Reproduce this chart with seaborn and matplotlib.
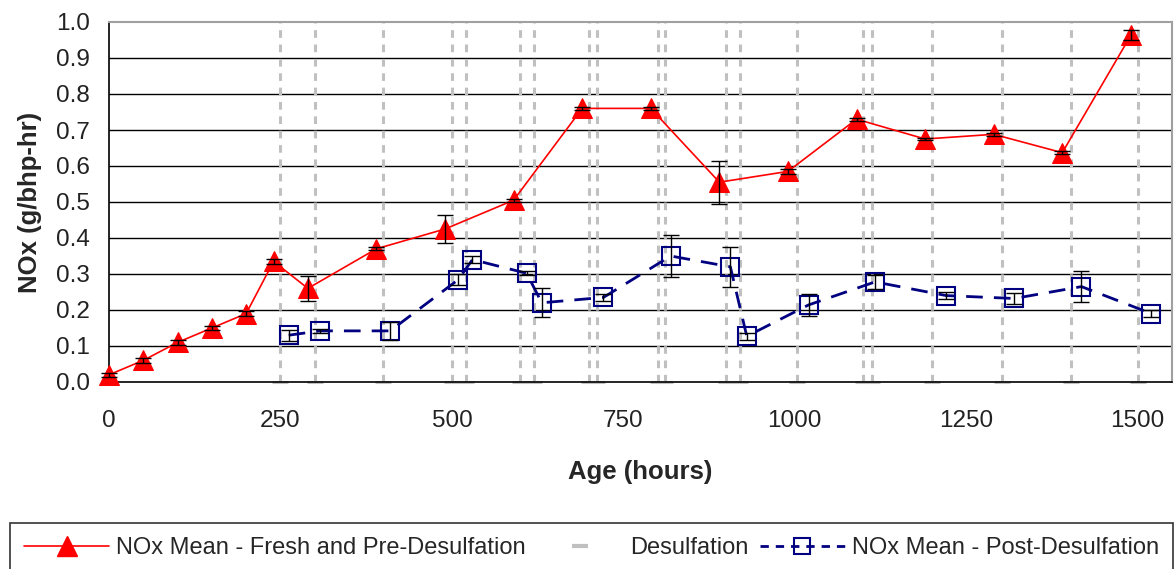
import numpy as np
import pandas as pd
import matplotlib
matplotlib.use("Agg")
import matplotlib.pyplot as plt
from matplotlib.lines import Line2D
import seaborn as sns

# ---- data ----
pre_age = [0, 50, 100, 150, 200, 240, 290, 390, 490, 590, 690, 790, 890, 990, 1090, 1190, 1290, 1390, 1490]
pre_nox = [0.02, 0.06, 0.11, 0.15, 0.19, 0.335, 0.26, 0.37, 0.425, 0.505, 0.76, 0.76, 0.555, 0.585, 0.73, 0.675, 0.688, 0.637, 0.963]
pre_err = [0.005, 0.006, 0.008, 0.005, 0.008, 0.008, 0.035, 0.004, 0.038, 0.004, 0.004, 0.004, 0.06, 0.006, 0.004, 0.004, 0.005, 0.004, 0.014]

post_age = [262, 308, 410, 509, 530, 609, 631, 721, 819, 906, 930, 1020, 1117, 1221, 1320, 1418, 1520]
post_nox = [0.13, 0.142, 0.142, 0.284, 0.34, 0.302, 0.22, 0.235, 0.35, 0.32, 0.127, 0.214, 0.278, 0.24, 0.232, 0.265, 0.19]
post_err = [0.015, 0.005, 0.024, 0.015, 0.01, 0.005, 0.04, 0.01, 0.057, 0.055, 0.01, 0.03, 0.02, 0.01, 0.015, 0.044, 0.01]

desulf_age = [250, 300, 400, 500, 520, 600, 620, 700, 712, 800, 810, 900, 920, 1003, 1100, 1112, 1200, 1302, 1402, 1500]

x_ticks = [0, 250, 500, 750, 1000, 1250, 1500]
y_ticks = [0.0, 0.1, 0.2, 0.3, 0.4, 0.5, 0.6, 0.7, 0.8, 0.9, 1.0]

label_pre = "NOx Mean - Fresh and Pre-Desulfation"
label_des = "Desulfation"
label_post = "NOx Mean - Post-Desulfation"

# ---- style ----
sns.set_style("white")
plt.rcParams['font.family'] = ['Liberation Sans', 'DejaVu Sans']

RED = "#FF0000"
NAVY = "#000080"
GRAY = "#C0C0C0"

fig = plt.figure(figsize=(11.76, 5.69), dpi=100)
ax = fig.add_axes([109/1176, 1 - 382/569, (1172 - 109)/1176, (382 - 22)/569])

ax.set_xlim(0, 1550)
ax.set_ylim(0, 1.0)

# horizontal gridlines
for yv in y_ticks[1:-1]:
    ax.axhline(yv, color="black", lw=1.0, zorder=1)

# desulfation lines
for xv in desulf_age:
    ax.axvline(xv, color=GRAY, lw=2.2, linestyle=(0, (2.5, 2.2)), zorder=2)
ax.plot(desulf_age, [0] * len(desulf_age), linestyle="none", marker="_",
        ms=12, mew=2.2, color=GRAY, zorder=2, clip_on=False)

pre_df = pd.DataFrame({"age": pre_age, "nox": pre_nox})
post_df = pd.DataFrame({"age": post_age, "nox": post_nox})

sns.lineplot(data=pre_df, x="age", y="nox", ax=ax, color=RED, lw=1.2,
             marker="^", markersize=15, markeredgecolor=RED, markerfacecolor=RED,
             zorder=4, clip_on=False)
sns.lineplot(data=post_df, x="age", y="nox", ax=ax, color=NAVY, lw=2.0,
             linestyle=(0, (6, 4)), marker="s", markersize=13,
             markeredgecolor=NAVY, markerfacecolor="none", markeredgewidth=1.5,
             zorder=4, clip_on=False)

ax.errorbar(pre_age, pre_nox, yerr=pre_err, fmt="none", ecolor="black",
            elinewidth=1.0, capsize=6, capthick=1.0, zorder=6, clip_on=False)
ax.errorbar(post_age, post_nox, yerr=post_err, fmt="none", ecolor="black",
            elinewidth=1.0, capsize=6, capthick=1.0, zorder=6, clip_on=False)

# spines
for s in ["top", "right"]:
    ax.spines[s].set_visible(True)
    ax.spines[s].set_color("#A0A0A0")
    ax.spines[s].set_linewidth(1.5)
for s in ["left", "bottom"]:
    ax.spines[s].set_color("black")
    ax.spines[s].set_linewidth(1.2)

ax.set_xticks(x_ticks)
ax.set_yticks(y_ticks)
ax.set_yticklabels([f"{v:.1f}" for v in y_ticks])
ax.tick_params(axis="both", direction="out", length=6, width=1.2, color="black",
               labelsize=17.5, labelcolor="#222222")
ax.tick_params(axis="x", pad=14)
ax.tick_params(axis="y", pad=8)

ax.set_xlabel("Age (hours)", fontsize=18.5, fontweight="bold", labelpad=20)
ax.set_ylabel("NOx (g/bhp-hr)", fontsize=18.5, fontweight="bold", labelpad=10)

# legend
h_pre = Line2D([], [], color=RED, lw=1.2, marker="^", ms=14, mfc=RED, mec=RED)
h_des = Line2D([], [], color=GRAY, linestyle="none", marker="_", ms=12, mew=3)
h_post = Line2D([], [], color=NAVY, lw=2.0, linestyle=(0, (3, 2.5)), marker="s",
                ms=11, mfc="none", mec=NAVY, mew=1.5)
leg = fig.legend([h_pre, h_des, h_post], [label_pre, label_des, label_post],
                 loc="upper left", bbox_to_anchor=(10/1176, 1 - 523/569),
                 ncol=3, fontsize=17, frameon=True, fancybox=False,
                 edgecolor="black", handlelength=3.6, handletextpad=0.3,
                 columnspacing=0.5, borderpad=0.6, borderaxespad=0, numpoints=1)
leg.get_frame().set_linewidth(1.2)

fig.savefig("out.png", dpi=100)
